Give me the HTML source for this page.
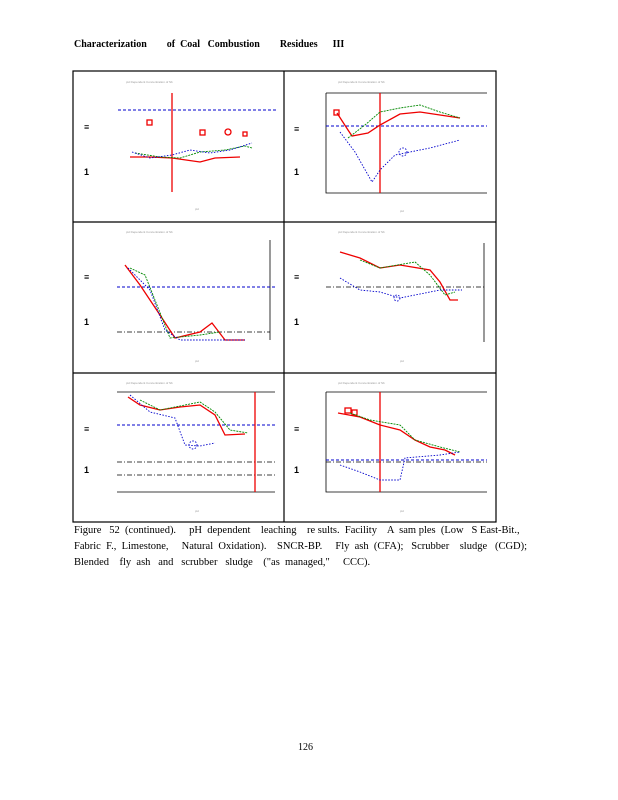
<!DOCTYPE html>
<html><head><style>
body{margin:0;background:#fff;}
.w{position:relative;width:618px;height:800px;font-family:"Liberation Serif",serif;}
.t{position:absolute;font-size:10.5px;color:#000;white-space:pre;}
</style></head><body><div class="w">
<div class="t" style="left:74px;top:39px;font-weight:bold;font-size:10px;">Characterization        of  Coal   Combustion        Residues      III</div>
<svg width="618" height="800" style="position:absolute;left:0;top:0" font-family="Liberation Sans" font-size="3">
<rect x="73" y="71" width="423" height="451" fill="none" stroke="#000" stroke-width="1.2"/>
<line x1="284" y1="71" x2="284" y2="522" stroke="#000" stroke-width="1.2"/>
<line x1="73" y1="222" x2="496" y2="222" stroke="#000" stroke-width="1.2"/>
<line x1="73" y1="373" x2="496" y2="373" stroke="#000" stroke-width="1.2"/>
<g fill="#000" font-weight="bold" font-size="9">
<text x="84" y="130">≡</text><text x="84" y="175">1</text>
<text x="294" y="132">≡</text><text x="294" y="175">1</text>
<text x="84" y="280">≡</text><text x="84" y="325">1</text>
<text x="294" y="280">≡</text><text x="294" y="325">1</text>
<text x="84" y="432">≡</text><text x="84" y="473">1</text>
<text x="294" y="432">≡</text><text x="294" y="473">1</text>
</g>
<g fill="#999"><text x="126" y="83">pH  Dependent       Concentration              of  Sb</text>
<text x="338" y="83">pH  Dependent       Concentration              of  Sb</text>
<text x="126" y="233">pH  Dependent       Concentration              of  Sb</text>
<text x="338" y="233">pH  Dependent       Concentration              of  Sb</text>
<text x="126" y="384">pH  Dependent       Concentration              of  Sb</text>
<text x="338" y="384">pH  Dependent       Concentration              of  Sb</text>
<text x="195" y="210">pH</text><text x="400" y="212">pH</text><text x="195" y="362">pH</text><text x="400" y="362">pH</text><text x="195" y="512">pH</text><text x="400" y="512">pH</text></g>
<g stroke="#000" fill="none" stroke-width="0.8">
<path d="M326 93H487M326 93V193H487"/>
<path d="M117 392H275M117 492H275"/>
<path d="M326 392H487M326 392V492H487"/>
<line x1="270" y1="240" x2="270" y2="340"/><line x1="484" y1="243" x2="484" y2="342"/>
</g>
<g stroke="#000" stroke-width="0.8" stroke-dasharray="5,2,1,2" fill="none">
<line x1="117" y1="332" x2="270" y2="332"/><line x1="326" y1="287" x2="484" y2="287"/>
<line x1="117" y1="462" x2="275" y2="462"/><line x1="117" y1="475" x2="275" y2="475"/>
<line x1="326" y1="462" x2="487" y2="462"/>
</g>
<g stroke="#00c" stroke-width="1" stroke-dasharray="3,2" fill="none">
<line x1="118" y1="110" x2="276" y2="110"/><line x1="326" y1="126" x2="487" y2="126"/>
<line x1="117" y1="287" x2="275" y2="287"/><line x1="117" y1="425" x2="275" y2="425"/>
<line x1="326" y1="460" x2="487" y2="460"/>
</g>
<g stroke="#e00" stroke-width="1.3" fill="none">
<line x1="172" y1="93" x2="172" y2="192"/><line x1="380" y1="93" x2="380" y2="193"/>
<line x1="255" y1="392" x2="255" y2="492"/><line x1="380" y1="392" x2="380" y2="492"/>
<polyline points="130,157 150,157 172,158 200,162 215,158 240,157"/>
<polyline points="337,113 348,130 352,136 368,133 380,125 400,114 420,112 440,115 460,118"/>
<polyline points="125,265 140,285 160,315 175,338 200,332 212,323 225,340 245,340"/>
<polyline points="340,252 360,258 380,268 400,265 430,270 440,282 450,300 458,300"/>
<polyline points="128,397 140,405 160,410 180,407 200,405 215,415 225,435 245,434"/>
<polyline points="338,413 360,417 380,425 400,430 415,440 430,447 445,450 455,455"/>
<rect x="147" y="120" width="5" height="5"/><rect x="200" y="130" width="5" height="5"/><circle cx="228" cy="132" r="3"/><rect x="243" y="132" width="4" height="4"/>
<rect x="334" y="110" width="5" height="5"/><rect x="345" y="408" width="6" height="5"/><rect x="352" y="410" width="5" height="5"/>
</g>
<g stroke="#080" stroke-width="0.9" stroke-dasharray="2,1" fill="none">
<polyline points="135,153 160,157 180,158 200,152 225,150 245,146 252,148"/>
<polyline points="348,138 365,125 380,112 400,108 420,105 440,112 460,118"/>
<polyline points="130,268 145,275 155,300 170,338 200,335 220,332"/>
<polyline points="360,260 380,268 415,262 430,275 445,295 455,292"/>
<polyline points="140,400 160,410 200,402 215,412 230,430 248,433"/>
<polyline points="350,413 370,420 400,425 415,440 440,447 460,452"/>
</g>
<g stroke="#00c" stroke-width="0.9" stroke-dasharray="1.5,1.5" fill="none">
<polyline points="132,152 150,158 172,155 190,150 210,153 230,150 252,143"/>
<polyline points="340,132 355,152 372,182 380,170 395,155 410,152 430,148 460,140"/>
<polyline points="128,268 150,290 165,330 180,340 220,340 245,340"/>
<polyline points="340,278 360,290 380,292 400,298 440,290 462,290"/>
<polyline points="130,395 150,412 175,418 185,445 200,446 215,443"/>
<polyline points="340,465 360,472 380,480 400,480 405,458 440,455 460,452"/>
<circle cx="403" cy="152" r="4"/><circle cx="193" cy="445" r="4"/><circle cx="397" cy="298" r="3"/>
</g>
</svg>
<div class="t" style="left:74px;top:523px;line-height:16px;font-size:10.5px;">Figure   52  (continued).     pH  dependent    leaching    re sults.  Facility    A  sam ples  (Low   S East-Bit.,
Fabric  F.,  Limestone,     Natural  Oxidation).    SNCR-BP.     Fly  ash  (CFA);   Scrubber    sludge   (CGD);
Blended    fly  ash   and   scrubber   sludge    ("as  managed,"     CCC).</div>
<div class="t" style="left:298px;top:742px;font-size:10px;">126</div>
</div></body></html>
